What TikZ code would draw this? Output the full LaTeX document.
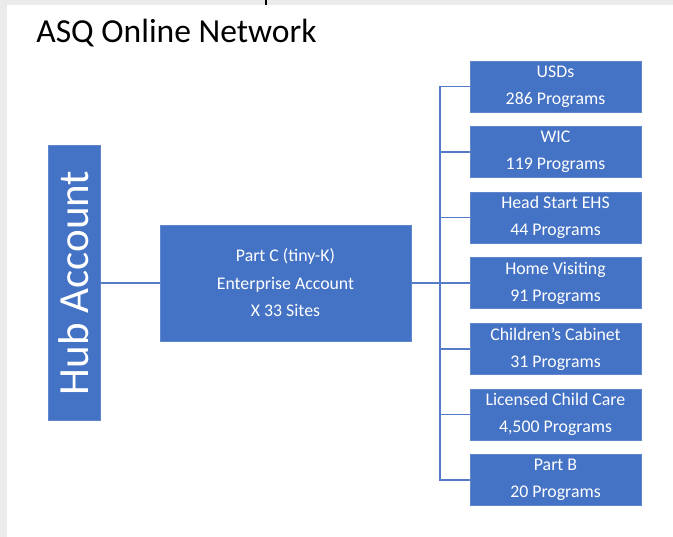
\documentclass[tikz,border=0pt]{standalone}
\usepackage{fontspec}
\setmainfont{Carlito}
\definecolor{boxblue}{RGB}{68,114,196}
\definecolor{lineblue}{RGB}{84,124,198}
\definecolor{bggray}{RGB}{235,235,235}
\begin{document}
\begin{tikzpicture}[x=1pt,y=-1pt,
  bluebox/.style={fill=boxblue, draw=boxblue!85!white, line width=0.6pt, text=white, inner sep=0pt, align=center},
  progbox/.style={bluebox, minimum width=171, minimum height=51, font=\fontsize{17.8}{27}\selectfont},
  conn/.style={draw=lineblue, line width=1.6pt},
]
\useasboundingbox (0,0) rectangle (673,537);
\fill[bggray] (0,0) rectangle (673,537);
\fill[white] (7,5) rectangle (673,537);
\draw[black, line width=2pt] (265.5,0) -- (265.5,5);

\node[anchor=base, font=\fontsize{33.6}{33.6}\selectfont] (title) at (176.5,43) {ASQ Online Network};

\node[bluebox, rotate=90, minimum width=275, minimum height=52, font=\fontsize{43}{43}\selectfont] (hub) at (74,283) {Hub Account};

\node[bluebox, minimum width=251, minimum height=116, font=\fontsize{17.8}{27.5}\selectfont] (partc) at (285.5,283) {Part C (tiny-K)\\Enterprise Account\\X 33 Sites};

\node[progbox] (usd) at (555.5,86.5) {USDs\\286 Programs};
\node[progbox] (wic) at (555.5,152.1) {WIC\\119 Programs};
\node[progbox] (hs)  at (555.5,217.7) {Head Start EHS\\44 Programs};
\node[progbox] (hv)  at (555.5,283.3) {Home Visiting\\91 Programs};
\node[progbox] (cc)  at (555.5,348.9) {Children’s Cabinet\\31 Programs};
\node[progbox] (lcc) at (555.5,414.5) {Licensed Child Care\\4,500 Programs};
\node[progbox] (pb)  at (555.5,480.1) {Part B\\20 Programs};

\coordinate (bus) at (440,283);

\draw[conn] (hub.south) -- (partc.west);
\draw[conn] (partc.east) -- (bus);
\foreach \b in {usd,wic,hs,hv,cc,lcc,pb}
  \draw[conn] (bus) |- (\b.west);
\end{tikzpicture}
\end{document}
